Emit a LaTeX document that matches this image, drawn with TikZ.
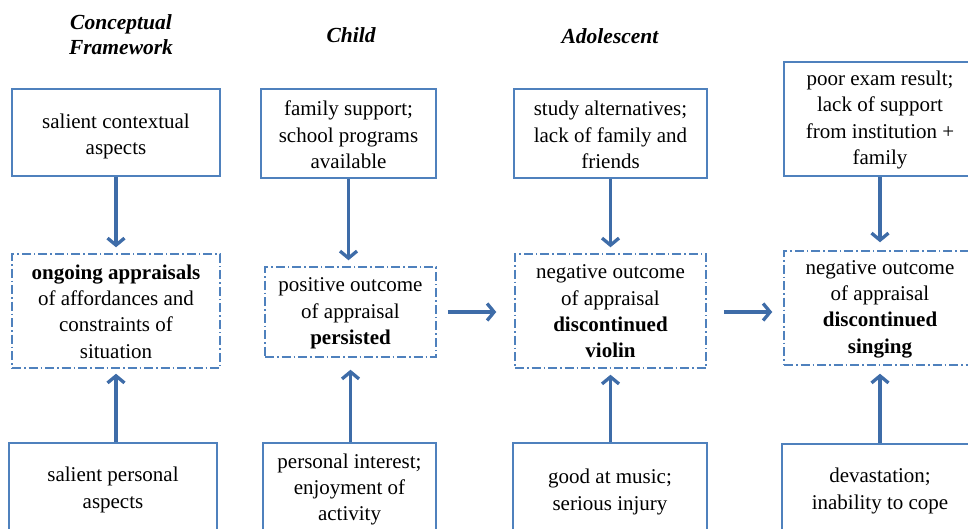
\documentclass[tikz,border=0pt]{standalone}
\usepackage{fontspec}
\setmainfont{Liberation Serif}
\usetikzlibrary{arrows.meta}
\definecolor{boxblue}{RGB}{79,129,189}
\definecolor{arrblue}{RGB}{62,108,168}
\tikzset{
  txt/.style={font=\fontsize{21}{26.3}\selectfont, align=center, inner sep=0pt},
  solidbox/.style={draw=boxblue, line width=1.5pt, rectangle, inner sep=0pt},
  dashbox/.style={draw=boxblue, line width=1.5pt, rectangle, inner sep=0pt,
    dash pattern=on 9pt off 3pt on 1.5pt off 3pt},
  head/.style={font=\fontsize{21.5}{25}\selectfont\bfseries\itshape, align=center, inner sep=0pt},
  arr/.style={draw=arrblue, line width=3.3pt, -{Straight Barb[length=7pt,width=17pt,line width=3.3pt]}},
}
\begin{document}
\begin{tikzpicture}[x=1pt,y=-1pt]
\useasboundingbox (0,0) rectangle (968,529);
\clip (0,0) rectangle (968,529);
\fill[white] (0,0) rectangle (968,529);
% headers
\node[head] (h1) at (121,35) {Conceptual\\Framework};
\node[head] (h2) at (351,35) {Child};
\node[head] (h3) at (610,36) {Adolescent};
% top boxes
\node[solidbox, minimum width=208pt, minimum height=87pt] (t1) at (116,132.5) {};
\node[txt] (t1x) at ([yshift=-4pt]t1.center) {salient contextual\\aspects};
\node[solidbox, minimum width=175pt, minimum height=89pt] (t2) at (348.5,133.5) {};
\node[txt] (t2x) at ([yshift=-1.5pt]t2.center) {family support;\\school programs\\available};
\node[solidbox, minimum width=193pt, minimum height=89pt] (t3) at (610.5,133.5) {};
\node[txt] (t3x) at ([yshift=-1.5pt]t3.center) {study alternatives;\\lack of family and\\friends};
\node[solidbox, minimum width=192pt, minimum height=114pt] (t4) at (880,119) {};
\node[txt] (t4x) at ([yshift=-1pt]t4.center) {poor exam result;\\lack of support\\from institution +\\family};
% middle boxes
\node[dashbox, minimum width=208pt, minimum height=114pt] (m1) at (116,311) {};
\node[txt] (m1x) at ([yshift=-0.5pt]m1.center) {\textbf{ongoing appraisals}\\of affordances and\\constraints of\\situation};
\node[dashbox, minimum width=171pt, minimum height=90pt] (m2) at (350.5,312) {};
\node[txt] (m2x) at ([yshift=-1.5pt]m2.center) {positive outcome\\of appraisal\\\textbf{persisted}};
\node[dashbox, minimum width=191pt, minimum height=114pt] (m3) at (610.5,311) {};
\node[txt] (m3x) at ([yshift=-0.5pt]m3.center) {negative outcome\\of appraisal\\\textbf{discontinued}\\\textbf{violin}};
\node[dashbox, minimum width=192pt, minimum height=114pt] (m4) at (880,308) {};
\node[txt] (m4x) at ([yshift=-1pt]m4.center) {negative outcome\\of appraisal\\\textbf{discontinued}\\\textbf{singing}};
% bottom boxes
\node[solidbox, minimum width=208pt, minimum height=90pt] (b1) at (113,488) {};
\node[txt] (b1x) at ([yshift=-2pt]b1.center) {salient personal\\aspects};
\node[solidbox, minimum width=173pt, minimum height=90pt] (b2) at (349.5,488) {};
\node[txt] (b2x) at ([yshift=-1.5pt]b2.center) {personal interest;\\enjoyment of\\activity};
\node[solidbox, minimum width=194pt, minimum height=90pt] (b3) at (610,488) {};
\node[txt] (b3x) at ([yshift=-4pt]b3.center) {good at music;\\serious injury};
\node[solidbox, minimum width=196pt, minimum height=90pt] (b4) at (880,489) {};
\node[txt] (b4x) at ([yshift=-2pt]b4.center) {devastation;\\inability to cope};
% down arrows
\draw[arr, shorten >=6pt] (t1.south) -- (t1.south |- m1.north);
\draw[arr, shorten >=6pt] (t2.south) -- (t2.south |- m2.north);
\draw[arr, shorten >=6pt] (t3.south) -- (t3.south |- m3.north);
\draw[arr, shorten >=8pt] (t4.south) -- (t4.south |- m4.north);
% up arrows
\draw[arr, shorten >=5pt] (b1.north -| m1.south) -- (m1.south);
\draw[arr, shorten >=12pt] (b2.north -| m2.south) -- (m2.south);
\draw[arr, shorten >=6pt] (b3.north -| m3.south) -- (m3.south);
\draw[arr, shorten >=8pt] (b4.north -| m4.south) -- (m4.south);
% horizontal arrows
\draw[arr, shorten <=11pt, shorten >=18pt] (m2.east) -- (m2.east -| m3.west);
\draw[arr, shorten <=17pt, shorten >=11pt] (m3.east |- m2.east) -- (m2.east -| m4.west);
\end{tikzpicture}
\end{document}
